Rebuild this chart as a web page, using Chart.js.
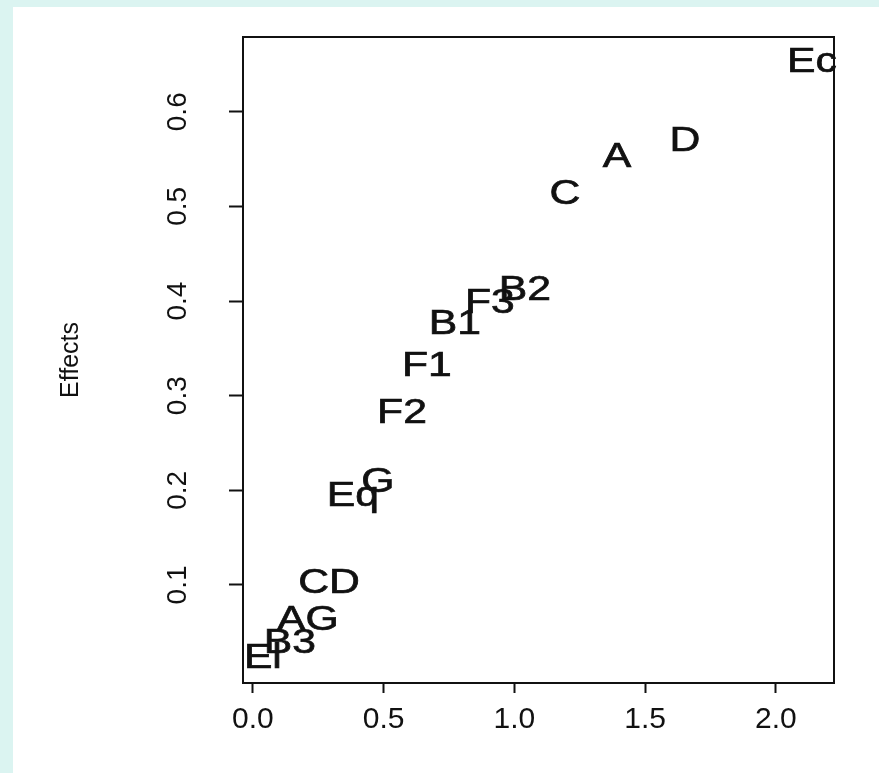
<!DOCTYPE html>
<html>
<head>
<meta charset="utf-8">
<script src="https://cdn.jsdelivr.net/npm/chart.js@4.4.1/dist/chart.umd.min.js"></script>
<style>
  html, body { margin: 0; padding: 0; background: #dbf4f1; }
  #wrap { width: 879px; height: 773px; position: relative; }
  canvas { display: block; }
</style>
</head>
<body>
<div id="wrap"><canvas id="c" width="879" height="773"></canvas></div>
<script>
// ---- data ----
const effectLabels = ['Ec', 'D', 'A', 'C', 'B2', 'F3', 'B1', 'F1', 'F2', 'G', 'Eq', 'CD', 'AG', 'B3', 'El'];
const quantiles    = [2.138, 1.652, 1.392, 1.193, 1.040, 0.906, 0.772, 0.665, 0.570, 0.478, 0.382, 0.291, 0.210, 0.141, 0.038];
const effects      = [0.653, 0.570, 0.553, 0.514, 0.412, 0.399, 0.376, 0.332, 0.282, 0.209, 0.195, 0.103, 0.064, 0.039, 0.024];
const xTickValues  = [0, 0.5, 1.0, 1.5, 2.0];
const xTickLabels  = ['0.0', '0.5', '1.0', '1.5', '2.0'];
const yTickValues  = [0.1, 0.2, 0.3, 0.4, 0.5, 0.6];
const yTickLabels  = ['0.1', '0.2', '0.3', '0.4', '0.5', '0.6'];
const yTitle = 'Effects';

const FONT = '"Liberation Sans", Arial, Helvetica, sans-serif';

const points = quantiles.map((x, i) => ({ x: x, y: effects[i] }));

const bgPlugin = {
  id: 'bg',
  beforeDraw(chart) {
    const ctx = chart.ctx;
    ctx.save();
    ctx.fillStyle = '#dbf4f1';
    ctx.fillRect(0, 0, chart.width, chart.height);
    ctx.fillStyle = '#ffffff';
    ctx.fillRect(13, 7, chart.width - 13, chart.height - 7);
    ctx.restore();
  }
};

const boxPlugin = {
  id: 'box',
  afterDraw(chart) {
    const a = chart.chartArea, ctx = chart.ctx;
    ctx.save();
    ctx.strokeStyle = '#111';
    ctx.lineWidth = 2;
    ctx.strokeRect(a.left, a.top, a.right - a.left, a.bottom - a.top);
    ctx.restore();
  }
};

const textPointPlugin = {
  id: 'textPoints',
  afterDatasetsDraw(chart) {
    const ctx = chart.ctx;
    const meta = chart.getDatasetMeta(0);
    ctx.save();
    ctx.fillStyle = '#111';
    ctx.strokeStyle = '#111';
    ctx.lineWidth = 0.7;
    ctx.font = '35px ' + FONT;
    ctx.textAlign = 'center';
    ctx.textBaseline = 'middle';
    meta.data.forEach((el, i) => {
      ctx.save();
      ctx.translate(el.x, el.y);
      ctx.scale(1.22, 1);
      ctx.fillText(effectLabels[i], 0, 1);
      ctx.strokeText(effectLabels[i], 0, 1);
      ctx.restore();
    });
    ctx.restore();
  }
};

function noPad(s) {
  s.paddingTop = 0; s.paddingBottom = 0; s.paddingLeft = 0; s.paddingRight = 0;
}

new Chart(document.getElementById('c'), {
  type: 'scatter',
  data: {
    datasets: [{
      data: points,
      pointRadius: 0,
      pointHoverRadius: 0,
      showLine: false
    }]
  },
  options: {
    responsive: false,
    animation: false,
    events: [],
    layout: { padding: { top: 37, right: 45, left: 0, bottom: 0 } },
    plugins: { legend: { display: false }, tooltip: { enabled: false } },
    scales: {
      x: {
        type: 'linear',
        position: 'bottom',
        min: -0.038,
        max: 2.222,
        afterBuildTicks: (s) => { s.ticks = xTickValues.map(v => ({ value: v })); },
        afterFit: (s) => { s.height = 90; noPad(s); },
        grid: { drawOnChartArea: false, drawTicks: true, tickLength: 10, tickColor: '#111', tickWidth: 2 },
        border: { display: true, color: '#111', width: 2 },
        ticks: {
          autoSkip: false,
          maxRotation: 0,
          minRotation: 0,
          padding: 9,
          color: '#111',
          font: { family: FONT, size: 30 },
          callback: (v, i) => xTickLabels[i]
        }
      },
      y: {
        type: 'linear',
        position: 'left',
        min: -0.0036,
        max: 0.679,
        afterBuildTicks: (s) => { s.ticks = yTickValues.map(v => ({ value: v })); },
        afterFit: (s) => { s.width = 243; noPad(s); },
        grid: { drawOnChartArea: false, drawTicks: true, tickLength: 14, tickColor: '#111', tickWidth: 2 },
        border: { display: true, color: '#111', width: 2 },
        title: {
          display: true,
          text: yTitle,
          color: '#111',
          font: { family: FONT, size: 25 },
          padding: { top: 56, bottom: 0 }
        },
        ticks: {
          autoSkip: false,
          minRotation: 90,
          maxRotation: 90,
          crossAlign: 'center',
          padding: 31,
          color: '#111',
          font: { family: FONT, size: 28 },
          callback: (v, i) => yTickLabels[i]
        }
      }
    }
  },
  plugins: [bgPlugin, boxPlugin, textPointPlugin]
});
</script>
</body>
</html>
